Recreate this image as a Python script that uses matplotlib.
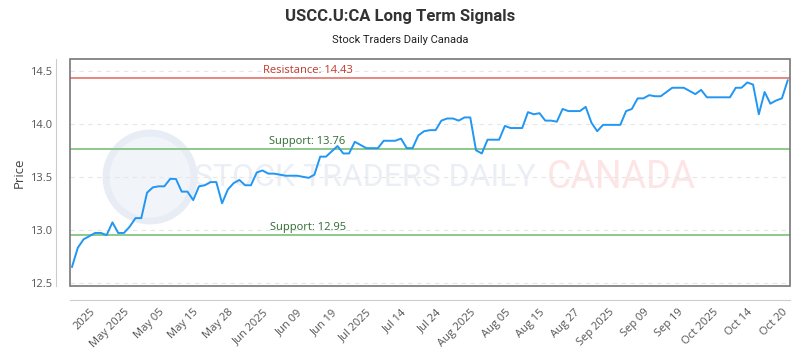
import matplotlib
matplotlib.use("Agg")
import matplotlib.pyplot as plt
from matplotlib.patches import Ellipse, Rectangle
import numpy as np

plt.rcParams['font.family'] = ['Open Sans', 'DejaVu Sans']

# closing prices, one per trading day
prices = [
    12.65, 12.83, 12.91, 12.94, 12.97, 12.97, 12.95, 13.07, 12.97, 12.97,
    13.03, 13.11, 13.11, 13.35, 13.40, 13.41, 13.41, 13.48, 13.48, 13.36,
    13.36, 13.28, 13.41, 13.42, 13.45, 13.45, 13.25, 13.38, 13.44, 13.47,
    13.42, 13.42, 13.54, 13.56, 13.53, 13.53, 13.52, 13.51, 13.51, 13.51,
    13.50, 13.49, 13.52, 13.69, 13.69, 13.74, 13.79, 13.72, 13.72, 13.83,
    13.80, 13.77, 13.77, 13.77, 13.84, 13.84, 13.84, 13.86, 13.77, 13.77,
    13.89, 13.93, 13.94, 13.94, 14.03, 14.05, 14.05, 14.03, 14.06, 14.06,
    13.75, 13.72, 13.85, 13.85, 13.85, 13.98, 13.96, 13.96, 13.96, 14.11,
    14.09, 14.10, 14.03, 14.03, 14.02, 14.14, 14.12, 14.12, 14.12, 14.16,
    14.01, 13.93, 13.99, 13.99, 13.99, 13.99, 14.12, 14.14, 14.24, 14.24,
    14.27, 14.26, 14.26, 14.30, 14.34, 14.34, 14.34, 14.31, 14.28, 14.32,
    14.25, 14.25, 14.25, 14.25, 14.25, 14.34, 14.34, 14.39, 14.37, 14.09,
    14.30, 14.19, 14.22, 14.24, 14.41,
]
tick_labels = ["2025", "May 2025", "May 05", "May 15", "May 28", "Jun 2025",
               "Jun 09", "Jun 19", "Jul 2025", "Jul 14", "Jul 24", "Aug 2025",
               "Aug 05", "Aug 15", "Aug 27", "Sep 2025", "Sep 09", "Sep 19",
               "Oct 2025", "Oct 14", "Oct 20"]
resistance = 14.43
supports = [13.76, 12.95]

x = np.arange(len(prices))
tick_pos = np.arange(3, 3 + 6 * len(tick_labels), 6)

fig = plt.figure(figsize=(8, 3.5), dpi=100)
ax = fig.add_axes([0.0875, 0.183, 0.9, 0.648])
ax.set_zorder(1)
ax.patch.set_alpha(0)

# spines first: moving them resets the ticks
for side in ['top', 'right']:
    ax.spines[side].set_visible(False)
ax.spines['left'].set_position(('outward', 10))
ax.spines['bottom'].set_position(('outward', 10))
ax.spines['left'].set_color('#cccccc')
ax.spines['bottom'].set_color('#cccccc')

# watermark
fig.patches.append(Ellipse((150 / 800, 1 - 177 / 350), 88 / 800, 88 / 350, transform=fig.transFigure,
                           facecolor='#f1f4f9', edgecolor='#e8edf5', lw=5, zorder=0))
fig.text(365 / 800, 1 - 178 / 350, "STOCK TRADERS DAILY", fontsize=23, color='#ebeff5',
         ha='center', va='center', family='Roboto', zorder=0.2)
fig.text(621 / 800, 1 - 178 / 350, "CANADA", fontsize=27, color='#fde5e5',
         ha='center', va='center', family='Roboto', zorder=0.2)

for v in [12.5, 13.0, 13.5, 14.0, 14.5]:
    ax.axhline(v, color='#e6e6e6', lw=0.8, ls=(0, (4, 4)), zorder=1)

ax.axhline(resistance, color='#e8877f', lw=1.4, zorder=2)
ax.text(0.33, resistance + 0.02, f"Resistance: {resistance:.2f}", transform=ax.get_yaxis_transform(),
        ha='center', va='bottom', fontsize=8, color='#c0392b')
for s in supports:
    ax.axhline(s, color='#8cc98c', lw=1.4, zorder=2)
    ax.text(0.33, s + 0.02, f"Support: {s:.2f}", transform=ax.get_yaxis_transform(),
            ha='center', va='bottom', fontsize=8, color='#2e6b30')

ax.plot(x, prices, color='#2196f3', lw=1.4, zorder=3)

ax.set_xlim(-0.35, 124.4)
ax.set_ylim(12.47, 14.61)
ax.set_yticks([12.5, 13.0, 13.5, 14.0, 14.5])
ax.set_xticks(tick_pos)
ax.set_xticklabels(tick_labels)
ax.tick_params(axis='both', labelsize=8, colors='#555555', length=0)
ax.tick_params(axis='x', pad=5, labelrotation=45)
ax.tick_params(axis='y', pad=3)
for lab in ax.get_xticklabels():
    lab.set_ha('right')
    lab.set_rotation_mode('anchor')
ax.set_ylabel("Price", fontsize=9.5, color='#444444', labelpad=3)

ax.add_patch(Rectangle((0, 0), 1, 1, transform=ax.transAxes, fill=False,
                       edgecolor='#777777', lw=1.2, zorder=4, clip_on=False))

fig.text(0.5, 1 - 16 / 350, "USCC.U:CA Long Term Signals", ha='center', va='center',
         fontsize=12, fontweight='bold', color='#333333', family='Roboto')
fig.text(0.5, 1 - 40 / 350, "Stock Traders Daily Canada", ha='center', va='center',
         fontsize=8, color='#222222', family='Roboto')

fig.savefig("out.png", dpi=100)
